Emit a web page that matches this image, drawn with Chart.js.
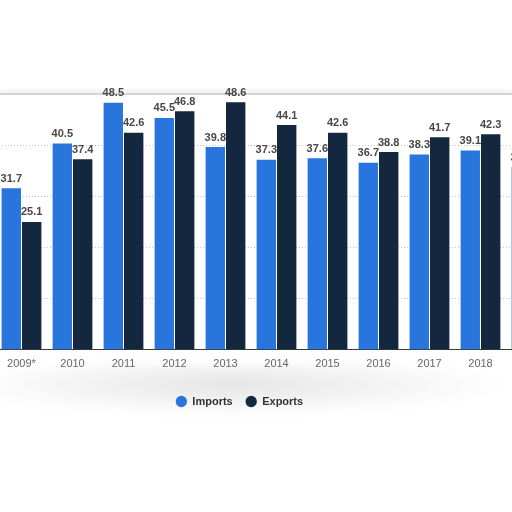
<!DOCTYPE html>
<html>
<head>
<meta charset="utf-8">
<script src="https://cdn.jsdelivr.net/npm/chart.js@4/dist/chart.umd.min.js"></script>
<style>
  html, body { margin: 0; padding: 0; width: 512px; height: 512px; overflow: hidden; background: #fff; }
  #wrap { position: absolute; left: -78px; top: 0; width: 635px; height: 512px; }
  #edge-top { position: absolute; left: 0; top: 93px; width: 512px; height: 2px; background: #d4d4d4; box-shadow: 0 -2px 4px rgba(0,0,0,0.12); }
  #smudge { position: absolute; left: 0; top: 364px; width: 512px; height: 52px;
    background: radial-gradient(ellipse at 45% 40%, rgba(0,0,0,0.10), rgba(0,0,0,0) 70%); filter: blur(4px); }
</style>
</head>
<body>
<div id="smudge"></div>
<div id="edge-top"></div>
<div id="wrap"><canvas id="tradeChart"></canvas></div>
<script>
// values in billions (2019 exports is cut off)
const years = ["2009*", "2010", "2011", "2012", "2013", "2014", "2015", "2016", "2017", "2018", "2019"];
const imports = [31.7, 40.5, 48.5, 45.5, 39.8, 37.3, 37.6, 36.7, 38.3, 39.1, 35.8];
const exports = [25.1, 37.4, 42.6, 46.8, 48.6, 44.1, 42.6, 38.8, 41.7, 42.3, null];
const yTicks = [0, 10, 20, 30, 40];

// value labels on top of each bar
const barLabels = {
  id: 'barLabels',
  afterDatasetsDraw(chart) {
    const ctx = chart.ctx;
    ctx.save();
    ctx.font = 'bold 11px "Liberation Sans", Arial, sans-serif';
    ctx.fillStyle = '#474747';
    ctx.textAlign = 'center';
    ctx.textBaseline = 'bottom';
    chart.data.datasets.forEach((ds, i) => {
      chart.getDatasetMeta(i).data.forEach((bar, j) => {
        if (ds.data[j] === null) return;
        ctx.fillText(ds.data[j].toFixed(1), bar.x, bar.y - 4);
      });
    });
    ctx.restore();
  }
};

new Chart(document.getElementById('tradeChart'), {
  type: 'bar',
  data: {
    labels: years,
    datasets: [
      { label: 'Imports', data: imports, backgroundColor: '#2876dd' },
      { label: 'Exports', data: exports, backgroundColor: '#13283f' }
    ]
  },
  options: {
    responsive: true,
    maintainAspectRatio: false,
    animation: false,
    layout: { padding: { top: 95, left: 0, right: 0, bottom: 95 } },
    datasets: { bar: { categoryPercentage: 0.8, barPercentage: 0.95 } },
    plugins: {
      tooltip: { enabled: false },
      legend: {
        position: 'bottom',
        labels: {
          usePointStyle: true,
          pointStyle: 'circle',
          boxWidth: 12,
          boxHeight: 8,
          padding: 13,
          color: '#333',
          font: { family: '"Liberation Sans", Arial, sans-serif', size: 11, weight: 'bold' }
        }
      }
    },
    scales: {
      x: {
        grid: { display: false, drawTicks: false },
        border: { display: true, color: '#3a3a3a', width: 1 },
        ticks: { padding: 8, color: '#666', font: { family: '"Liberation Sans", Arial, sans-serif', size: 11 } },
        afterFit: (axis) => { axis.height += 4; }
      },
      y: {
        min: 0,
        max: 50,
        afterBuildTicks: (axis) => { axis.ticks = yTicks.map(v => ({ value: v })); },
        afterFit: (axis) => { axis.width = 74; },
        border: { display: false, dash: [1, 2] },
        grid: { color: '#c4c4c4', lineWidth: 1, drawTicks: false },
        ticks: { display: false }
      }
    }
  },
  plugins: [barLabels]
});
</script>
</body>
</html>
